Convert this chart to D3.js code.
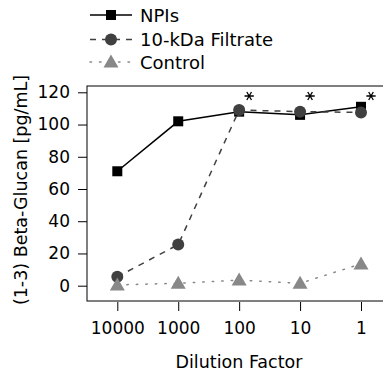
<!DOCTYPE html>
<html><head><meta charset="utf-8">
<script src="https://cdn.jsdelivr.net/npm/d3@7"></script>
<style>body{margin:0;background:#fff}svg{display:block}text{font-family:"DejaVu Sans",Verdana,sans-serif}</style>
</head><body><svg id="c" width="383" height="374"></svg>
<script>
const categories = ["10000","1000","100","10","1"];
const npis = [71, 102, 108, 106, 111];
const filtrate = [5.5, 25.5, 109, 108, 107.5];
const control = [0.5, 1.5, 3.5, 1.5, 13.5];
const yTicks = [0, 20, 40, 60, 80, 100, 120];
const starIdx = [2, 3, 4];

const svg = d3.select("#c");
const L = 87, R = 392, T = 86, B = 301;
const x = d3.scalePoint().domain(categories).range([117.3, 361]);
const y = d3.scaleLinear().domain([0, 120]).range([285.7, 92.3]);

svg.append("rect").attr("x", L).attr("y", T).attr("width", R - L).attr("height", B - T)
  .attr("fill", "none").attr("stroke", "#000").attr("stroke-width", 1);

const ya = svg.append("g").attr("transform", `translate(${L},0)`)
  .call(d3.axisLeft(y).tickValues(yTicks).tickSize(9).tickPadding(8));
ya.select(".domain").remove();
ya.selectAll("text").attr("font-size", 17).attr("fill", "#000");

const xa = svg.append("g").attr("transform", `translate(0,${B + 1})`)
  .call(d3.axisBottom(x).tickSize(9).tickPadding(10.5));
xa.select(".domain").remove();
xa.selectAll("text").attr("font-size", 17).attr("fill", "#000");

svg.append("text").attr("x", 239).attr("y", 368).attr("text-anchor", "middle")
  .attr("font-size", 17.5).attr("fill", "#000").text("Dilution Factor");
svg.append("text").attr("transform", "translate(27,190) rotate(-90)").attr("text-anchor", "middle")
  .attr("font-size", 17.5).attr("fill", "#000").text("(1-3) Beta-Glucan [pg/mL]");

const line = d3.line().x((d, i) => x(categories[i])).y(d => y(d));

const series = [
  {name: "NPIs", data: npis, color: "#000", dash: null, shape: "sq", lw: 1.5},
  {name: "10-kDa Filtrate", data: filtrate, color: "#404040", dash: "6,6", shape: "ci", lw: 1.5},
  {name: "Control", data: control, color: "#888", dash: "1.5,8", shape: "tr", lw: 1.5}
];

function marker(g, shape, color, cx, cy) {
  if (shape === "sq") g.append("rect").attr("x", cx - 5).attr("y", cy - 5).attr("width", 10).attr("height", 10).attr("fill", color);
  else if (shape === "ci") g.append("circle").attr("cx", cx).attr("cy", cy).attr("r", 6).attr("fill", color);
  else g.append("path").attr("d", `M${cx},${cy - 7.5}L${cx + 7.5},${cy + 5.5}L${cx - 7.5},${cy + 5.5}Z`).attr("fill", color);
}

[0, 1, 2].forEach(k => {
  const s = series[k];
  svg.append("path").datum(s.data).attr("d", line).attr("fill", "none")
    .attr("stroke", s.color).attr("stroke-width", s.lw)
    .attr("stroke-dasharray", s.dash).attr("stroke-linecap", s.shape === "tr" ? "round" : "butt");
  const g = svg.append("g");
  s.data.forEach((d, i) => marker(g, s.shape, s.color, x(categories[i]), y(d)));
});

const star = d3.symbol().type(d3.symbolAsterisk).size(60);
starIdx.forEach(i => {
  svg.append("path").attr("d", star())
    .attr("transform", `translate(${x(categories[i]) + 10},96) rotate(90)`)
    .attr("fill", "none").attr("stroke", "#000").attr("stroke-width", 1.3);
});

const legY = [15, 39.5, 62];
series.forEach((s, k) => {
  svg.append("line").attr("x1", 90).attr("x2", 132).attr("y1", legY[k]).attr("y2", legY[k])
    .attr("stroke", s.color).attr("stroke-width", s.lw).attr("stroke-dasharray", s.dash)
    .attr("stroke-linecap", s.shape === "tr" ? "round" : "butt");
  marker(svg.append("g"), s.shape, s.color, 111, legY[k]);
  svg.append("text").attr("x", 140).attr("y", legY[k] + 6.5).attr("font-size", 18).attr("fill", "#000").text(s.name);
});
</script></body></html>
